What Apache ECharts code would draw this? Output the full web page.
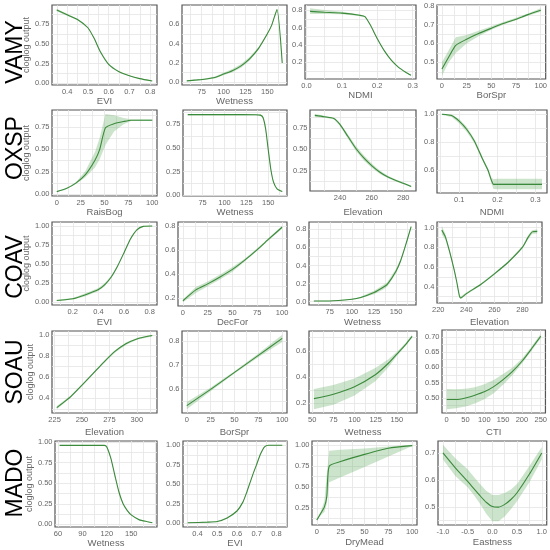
<!DOCTYPE html>
<html><head><meta charset="utf-8">
<script src="https://cdn.jsdelivr.net/npm/echarts@6/dist/echarts.min.js"></script>
<style>html,body{margin:0;padding:0;background:#fff}#c{width:550px;height:550px}</style>
</head><body><div id="c"></div>
<script>
// ---------------- DATA ----------------
const species = ['VAMY','OXSP','COAV','SOAU','MADO'];
const yTitle = 'cloglog output';

// VAMY
const vamy_evi_x   = [0.35,0.40,0.45,0.50,0.53,0.56,0.60,0.65,0.70,0.75,0.81];
const vamy_evi_fit = [0.93,0.87,0.81,0.705,0.57,0.40,0.24,0.145,0.094,0.058,0.027];
const vamy_evi_lo  = [0.915,0.858,0.80,0.697,0.562,0.392,0.233,0.139,0.089,0.054,0.023];
const vamy_evi_hi  = [0.948,0.882,0.82,0.713,0.578,0.408,0.247,0.151,0.099,0.062,0.031];
const vamy_evi_xt  = [0.4,0.5,0.6,0.7,0.8];
const vamy_evi_yt  = [0,0.25,0.5,0.75];

const vamy_wet_x   = [58,70,80,90,100,110,120,130,140,150,155,161,167];
const vamy_wet_fit = [0.015,0.025,0.035,0.05,0.085,0.12,0.17,0.245,0.35,0.50,0.59,0.75,0.2];
const vamy_wet_lo  = [0.01,0.018,0.027,0.04,0.072,0.103,0.15,0.225,0.335,0.49,0.582,0.74,0.19];
const vamy_wet_hi  = [0.02,0.032,0.043,0.06,0.098,0.137,0.19,0.265,0.365,0.51,0.598,0.76,0.21];
const vamy_wet_xt  = [75,100,125,150];
const vamy_wet_yt  = [0,0.2,0.4,0.6];

const vamy_ndmi_x   = [0.01,0.05,0.10,0.15,0.165,0.18,0.20,0.22,0.24,0.26,0.28,0.295];
const vamy_ndmi_fit = [0.785,0.775,0.765,0.74,0.725,0.63,0.47,0.33,0.22,0.14,0.085,0.05];
const vamy_ndmi_lo  = [0.755,0.755,0.752,0.732,0.717,0.622,0.462,0.322,0.213,0.134,0.08,0.045];
const vamy_ndmi_hi  = [0.82,0.80,0.78,0.75,0.733,0.638,0.478,0.338,0.227,0.146,0.09,0.055];
const vamy_ndmi_xt  = [0,0.1,0.2,0.3];
const vamy_ndmi_yt  = [0,0.2,0.4,0.6,0.8];

const vamy_bor_x   = [0,7,14,25,37,50,62,75,87,100];
const vamy_bor_fit = [0.465,0.53,0.59,0.622,0.652,0.68,0.705,0.728,0.752,0.775];
const vamy_bor_lo  = [0.43,0.50,0.55,0.60,0.638,0.672,0.698,0.722,0.746,0.767];
const vamy_bor_hi  = [0.50,0.565,0.632,0.645,0.667,0.69,0.713,0.735,0.758,0.785];
const vamy_bor_xt  = [0,25,50,75,100];
const vamy_bor_yt  = [0.5,0.6,0.7,0.8];

// OXSP
const oxsp_rais_x   = [0,10,20,30,40,45,51,60,70,78,90,100];
const oxsp_rais_fit = [0.03,0.065,0.125,0.22,0.38,0.50,0.74,0.785,0.81,0.825,0.825,0.825];
const oxsp_rais_lo  = [0.025,0.06,0.115,0.19,0.30,0.39,0.55,0.70,0.78,0.815,0.815,0.815];
const oxsp_rais_hi  = [0.035,0.07,0.135,0.26,0.47,0.63,0.895,0.88,0.85,0.835,0.835,0.835];
const oxsp_rais_xt  = [0,25,50,75,100];
const oxsp_rais_yt  = [0,0.25,0.5,0.75];

const oxsp_wet_x   = [58,80,100,120,135,141,144,147,150,153,156,160,166];
const oxsp_wet_fit = [0.85,0.85,0.85,0.85,0.849,0.845,0.82,0.70,0.48,0.27,0.14,0.07,0.04];
const oxsp_wet_lo  = [0.842,0.842,0.842,0.842,0.841,0.836,0.81,0.69,0.47,0.26,0.132,0.064,0.035];
const oxsp_wet_hi  = [0.858,0.858,0.858,0.858,0.857,0.854,0.83,0.71,0.49,0.28,0.148,0.076,0.045];
const oxsp_wet_xt  = [75,100,125,150];
const oxsp_wet_yt  = [0,0.25,0.5,0.75];

const oxsp_elev_x   = [224,230,236,240,245,250,255,260,265,270,275,280,285];
const oxsp_elev_fit = [0.898,0.882,0.862,0.79,0.65,0.51,0.40,0.31,0.235,0.178,0.138,0.102,0.065];
const oxsp_elev_lo  = [0.878,0.870,0.852,0.775,0.625,0.48,0.37,0.285,0.215,0.163,0.126,0.092,0.055];
const oxsp_elev_hi  = [0.918,0.894,0.872,0.805,0.675,0.54,0.43,0.335,0.255,0.193,0.150,0.112,0.075];
const oxsp_elev_xt  = [220,240,260,280];
const oxsp_elev_yt  = [0.25,0.5,0.75];

const oxsp_ndmi_x   = [0.055,0.08,0.10,0.12,0.14,0.16,0.175,0.185,0.19,0.20,0.25,0.317];
const oxsp_ndmi_fit = [1.0,0.99,0.95,0.89,0.806,0.685,0.60,0.52,0.495,0.495,0.495,0.495];
const oxsp_ndmi_lo  = [0.995,0.98,0.935,0.872,0.79,0.672,0.585,0.50,0.462,0.46,0.46,0.46];
const oxsp_ndmi_hi  = [1.003,0.998,0.965,0.908,0.822,0.698,0.615,0.54,0.532,0.535,0.535,0.535];
const oxsp_ndmi_xt  = [0.1,0.2,0.3];
const oxsp_ndmi_yt  = [0.6,0.8,1.0];

// COAV
const coav_evi_x   = [0.075,0.2,0.3,0.4,0.45,0.5,0.55,0.6,0.65,0.7,0.75,0.82];
const coav_evi_fit = [0.022,0.044,0.098,0.165,0.23,0.33,0.475,0.65,0.83,0.95,0.995,1.0];
const coav_evi_lo  = [0.012,0.034,0.078,0.145,0.21,0.315,0.465,0.64,0.82,0.94,0.99,0.997];
const coav_evi_hi  = [0.032,0.054,0.118,0.185,0.25,0.345,0.485,0.66,0.84,0.96,1.0,1.003];
const coav_evi_xt  = [0.2,0.4,0.6,0.8];
const coav_evi_yt  = [0,0.25,0.5,0.75,1.0];

const coav_dec_x   = [0,13,25,37,50,62,75,87,100];
const coav_dec_fit = [0.18,0.27,0.32,0.375,0.44,0.515,0.605,0.695,0.79];
const coav_dec_lo  = [0.168,0.245,0.30,0.355,0.42,0.503,0.595,0.685,0.778];
const coav_dec_hi  = [0.192,0.295,0.34,0.395,0.46,0.527,0.615,0.705,0.802];
const coav_dec_xt  = [0,25,50,75,100];
const coav_dec_yt  = [0.2,0.4,0.6,0.8];

const coav_wet_x   = [57,75,100,110,125,135,140,150,155,160,167];
const coav_wet_fit = [0.007,0.007,0.026,0.045,0.10,0.156,0.19,0.34,0.45,0.60,0.83];
const coav_wet_lo  = [0.004,0.004,0.021,0.037,0.08,0.131,0.165,0.315,0.43,0.585,0.82];
const coav_wet_hi  = [0.010,0.010,0.031,0.053,0.12,0.181,0.215,0.365,0.47,0.615,0.84];
const coav_wet_xt  = [75,100,125,150];
const coav_wet_yt  = [0,0.2,0.4,0.6,0.8];

const coav_elev_x   = [222.5,225,228,231,233,235,236,240,250,260,270,280,284,287,290.5];
const coav_elev_fit = [0.973,0.907,0.76,0.59,0.46,0.31,0.287,0.33,0.42,0.53,0.65,0.80,0.90,0.955,0.96];
const coav_elev_lo  = [0.928,0.877,0.74,0.575,0.445,0.295,0.272,0.318,0.41,0.52,0.64,0.788,0.88,0.935,0.94];
const coav_elev_hi  = [1.018,0.937,0.78,0.605,0.475,0.325,0.302,0.342,0.43,0.54,0.66,0.812,0.92,0.975,0.98];
const coav_elev_xt  = [220,240,260,280];
const coav_elev_yt  = [0.4,0.6,0.8,1.0];

// SOAU
const soau_elev_x   = [227,240,250,260,270,280,290,300,314];
const soau_elev_fit = [0.3125,0.42,0.525,0.634,0.744,0.844,0.916,0.9625,0.994];
const soau_elev_lo  = [0.2975,0.41,0.517,0.626,0.735,0.832,0.904,0.954,0.986];
const soau_elev_hi  = [0.3275,0.43,0.533,0.642,0.753,0.856,0.928,0.971,1.002];
const soau_elev_xt  = [225,250,275,300];
const soau_elev_yt  = [0.4,0.6,0.8,1.0];

const soau_bor_x   = [0,25,50,75,100];
const soau_bor_fit = [0.533,0.60,0.67,0.74,0.81];
const soau_bor_lo  = [0.518,0.592,0.665,0.732,0.795];
const soau_bor_hi  = [0.548,0.608,0.675,0.748,0.825];
const soau_bor_xt  = [0,25,50,75,100];
const soau_bor_yt  = [0.5,0.6,0.7,0.8];

const soau_wet_x   = [52,75,100,125,140,150,160,168];
const soau_wet_fit = [0.236,0.27,0.327,0.42,0.505,0.575,0.645,0.71];
const soau_wet_lo  = [0.155,0.19,0.26,0.37,0.475,0.56,0.635,0.70];
const soau_wet_hi  = [0.31,0.34,0.39,0.47,0.535,0.59,0.658,0.722];
const soau_wet_xt  = [50,75,100,125,150];
const soau_wet_yt  = [0.2,0.4,0.6];

const soau_cti_x   = [0,25,50,75,100,125,150,175,200,225,250];
const soau_cti_fit = [0.495,0.495,0.50,0.509,0.52,0.537,0.56,0.587,0.62,0.66,0.702];
const soau_cti_lo  = [0.463,0.466,0.472,0.482,0.496,0.515,0.543,0.575,0.613,0.654,0.695];
const soau_cti_hi  = [0.529,0.528,0.53,0.535,0.545,0.559,0.578,0.60,0.628,0.667,0.71];
const soau_cti_xt  = [0,50,100,150,200,250];
const soau_cti_yt  = [0.45,0.5,0.55,0.6,0.65,0.7];

// MADO
const mado_wet_x   = [62,90,117,120,125,130,135,140,145,150,160,170,176];
const mado_wet_fit = [0.958,0.958,0.958,0.94,0.80,0.59,0.39,0.25,0.17,0.115,0.055,0.033,0.02];
const mado_wet_lo  = [0.952,0.952,0.952,0.933,0.793,0.583,0.383,0.244,0.165,0.11,0.051,0.029,0.016];
const mado_wet_hi  = [0.964,0.964,0.964,0.947,0.807,0.597,0.397,0.256,0.175,0.12,0.059,0.037,0.024];
const mado_wet_xt  = [60,90,120,150];
const mado_wet_yt  = [0,0.25,0.5,0.75,1.0];

const mado_evi_x   = [0.35,0.45,0.50,0.55,0.60,0.63,0.65,0.68,0.70,0.72,0.74,0.76,0.83];
const mado_evi_fit = [0.005,0.013,0.022,0.067,0.156,0.27,0.40,0.62,0.755,0.89,0.98,1.0,1.0];
const mado_evi_lo  = [0.001,0.009,0.017,0.061,0.149,0.262,0.392,0.612,0.747,0.883,0.975,0.996,0.996];
const mado_evi_hi  = [0.009,0.017,0.027,0.073,0.163,0.278,0.408,0.628,0.763,0.897,0.985,1.004,1.004];
const mado_evi_xt  = [0.4,0.5,0.6,0.7,0.8];
const mado_evi_yt  = [0,0.25,0.5,0.75,1.0];

const mado_dry_x   = [0,4,8,10.5,13,25,50,75,100];
const mado_dry_fit = [0.104,0.18,0.26,0.385,0.745,0.80,0.886,0.96,0.99];
const mado_dry_lo  = [0.09,0.16,0.20,0.30,0.555,0.614,0.737,0.86,0.985];
const mado_dry_hi  = [0.12,0.20,0.33,0.65,0.93,0.94,0.955,0.98,1.0];
const mado_dry_xt  = [0,25,50,75,100];
const mado_dry_yt  = [0.25,0.5,0.75,1.0];

const mado_east_x   = [-1,-0.75,-0.5,-0.375,-0.25,-0.125,0,0.125,0.25,0.375,0.5,0.75,1];
const mado_east_fit = [0.70,0.645,0.595,0.568,0.542,0.518,0.502,0.500,0.510,0.528,0.553,0.622,0.70];
const mado_east_lo  = [0.676,0.615,0.573,0.545,0.512,0.475,0.448,0.448,0.465,0.492,0.522,0.592,0.676];
const mado_east_hi  = [0.73,0.68,0.64,0.612,0.585,0.56,0.545,0.545,0.552,0.565,0.585,0.652,0.722];
const mado_east_xt  = [-1,-0.5,0,0.5,1];
const mado_east_yt  = [0.5,0.6,0.7];

const panels = [
  ['EVI', vamy_evi_x, vamy_evi_fit, vamy_evi_lo, vamy_evi_hi, vamy_evi_xt, vamy_evi_yt],
  ['Wetness', vamy_wet_x, vamy_wet_fit, vamy_wet_lo, vamy_wet_hi, vamy_wet_xt, vamy_wet_yt],
  ['NDMI', vamy_ndmi_x, vamy_ndmi_fit, vamy_ndmi_lo, vamy_ndmi_hi, vamy_ndmi_xt, vamy_ndmi_yt],
  ['BorSpr', vamy_bor_x, vamy_bor_fit, vamy_bor_lo, vamy_bor_hi, vamy_bor_xt, vamy_bor_yt],
  ['RaisBog', oxsp_rais_x, oxsp_rais_fit, oxsp_rais_lo, oxsp_rais_hi, oxsp_rais_xt, oxsp_rais_yt],
  ['Wetness', oxsp_wet_x, oxsp_wet_fit, oxsp_wet_lo, oxsp_wet_hi, oxsp_wet_xt, oxsp_wet_yt],
  ['Elevation', oxsp_elev_x, oxsp_elev_fit, oxsp_elev_lo, oxsp_elev_hi, oxsp_elev_xt, oxsp_elev_yt],
  ['NDMI', oxsp_ndmi_x, oxsp_ndmi_fit, oxsp_ndmi_lo, oxsp_ndmi_hi, oxsp_ndmi_xt, oxsp_ndmi_yt],
  ['EVI', coav_evi_x, coav_evi_fit, coav_evi_lo, coav_evi_hi, coav_evi_xt, coav_evi_yt],
  ['DecFor', coav_dec_x, coav_dec_fit, coav_dec_lo, coav_dec_hi, coav_dec_xt, coav_dec_yt],
  ['Wetness', coav_wet_x, coav_wet_fit, coav_wet_lo, coav_wet_hi, coav_wet_xt, coav_wet_yt],
  ['Elevation', coav_elev_x, coav_elev_fit, coav_elev_lo, coav_elev_hi, coav_elev_xt, coav_elev_yt],
  ['Elevation', soau_elev_x, soau_elev_fit, soau_elev_lo, soau_elev_hi, soau_elev_xt, soau_elev_yt],
  ['BorSpr', soau_bor_x, soau_bor_fit, soau_bor_lo, soau_bor_hi, soau_bor_xt, soau_bor_yt],
  ['Wetness', soau_wet_x, soau_wet_fit, soau_wet_lo, soau_wet_hi, soau_wet_xt, soau_wet_yt],
  ['CTI', soau_cti_x, soau_cti_fit, soau_cti_lo, soau_cti_hi, soau_cti_xt, soau_cti_yt],
  ['Wetness', mado_wet_x, mado_wet_fit, mado_wet_lo, mado_wet_hi, mado_wet_xt, mado_wet_yt],
  ['EVI', mado_evi_x, mado_evi_fit, mado_evi_lo, mado_evi_hi, mado_evi_xt, mado_evi_yt],
  ['DryMead', mado_dry_x, mado_dry_fit, mado_dry_lo, mado_dry_hi, mado_dry_xt, mado_dry_yt],
  ['Eastness', mado_east_x, mado_east_fit, mado_east_lo, mado_east_hi, mado_east_xt, mado_east_yt]
];

// ---------------- LAYOUT (pixels) ----------------
const BOX = [ // left, right, top, bottom of each panel frame
  [52,157,5,85],[182,287,5,85],[305,416,5,79],[437,547,5,79],
  [52,157,110,196],[183,287,110,196],[310,416,110,191],[437,547,110,193],
  [52,157,222,305],[178,287,222,306],[309,416,222,305],[437,542,222,303],
  [52,157,331,413],[182,287,331,413],[309,417,331,413],[442,547,330,413],
  [55,157,441,527],[183,287,441,527],[312,417,441,525],[438,547,441,525]
];
const TITLE_Y = [100,100,93,93, 212,212,212,212, 322,322,322,322, 432,432,432,432, 543,543,542,542];
const ROW_LABEL_Y = [52,148,267,372,483];

const FONT = 'Liberation Sans, Arial, sans-serif';
const TXT = '#666666';

function decimals(arr){
  return Math.max(...arr.map(t => { const s = String(t); const k = s.indexOf('.'); return k < 0 ? 0 : s.length - k - 1; }));
}
function gridValues(ticks, ext){
  const step = ticks[1] - ticks[0];
  const vals = [];
  for (let v = ticks[0] - step; v <= ticks[ticks.length-1] + step + 1e-9; v += step/2) {
    const r = Number(v.toFixed(10));
    if (r > ext[0] && r < ext[1]) vals.push(r);
  }
  return vals;
}
function makeAxis(ext, ticks, gi, name, nameGap, extra){
  const dec = decimals(ticks);
  return Object.assign({
    type: 'value', gridIndex: gi, min: ext[0], max: ext[1],
    axisLine: {show: false},
    axisTick: {show: false, customValues: gridValues(ticks, ext)},
    axisLabel: {customValues: ticks, formatter: v => v.toFixed(dec), color: TXT, fontSize: 7.5, margin: 2.5, fontFamily: FONT},
    splitLine: {show: true, lineStyle: {color: '#e4e4e4', width: 0.8}},
    minorSplitLine: {show: false},
    name: name, nameLocation: 'middle', nameGap: nameGap,
    nameTextStyle: {color: TXT, fontSize: 9.5, fontFamily: FONT}
  }, extra || {});
}

const grids = [], xAxes = [], yAxes = [], series = [];
panels.forEach((p, i) => {
  const [name, xs, fit, lo, hi, xt, yt] = p;
  const b = BOX[i];
  const col = i % 4;
  grids.push({left: b[0], top: b[2], width: b[1]-b[0], height: b[3]-b[2],
    show: true, borderColor: '#555555', borderWidth: 1.2, backgroundColor: 'rgba(0,0,0,0)'});
  const xmin = Math.min(...xs), xmax = Math.max(...xs), xspan = xmax - xmin;
  const ymin = Math.min(...lo, ...fit), ymax = Math.max(...hi, ...fit), yspan = ymax - ymin;
  const xe = [xmin - 0.05*xspan, xmax + 0.05*xspan];
  const ye = [ymin - 0.05*yspan, ymax + 0.05*yspan];
  xAxes.push(makeAxis(xe, xt, i, name, TITLE_Y[i] - b[3] - 5));
  yAxes.push(makeAxis(ye, yt, i, col === 0 ? yTitle : '', b[0] - 35, {nameTextStyle: {color: TXT, fontSize: 9, fontFamily: FONT}}));
  // confidence band: one polygon through the upper then lower bounds, placed with the axes' scales
  series.push({type: 'custom', xAxisIndex: i, yAxisIndex: i, silent: true, z: 1,
    data: xs.map((v, j) => [v, lo[j], hi[j]]),
    encode: {x: 0, y: [1, 2]},
    renderItem: (params, api) => {
      if (params.dataIndex !== 0) return null;
      const up = xs.map((v, j) => api.coord([v, hi[j]]));
      const dn = xs.map((v, j) => api.coord([v, lo[j]])).reverse();
      return {type: 'polygon', shape: {points: up.concat(dn)},
        style: {fill: 'rgba(95,170,95,0.32)', stroke: null}};
    }});
  series.push({type: 'line', xAxisIndex: i, yAxisIndex: i, silent: true,
    data: xs.map((v, j) => [v, fit[j]]), symbol: 'none', smooth: 0.2,
    lineStyle: {color: '#3b8a3b', width: 1.1}, z: 3});
});

const graphics = species.map((s, r) => ({
  type: 'text', x: 16, y: ROW_LABEL_Y[r], rotation: Math.PI/2,
  style: {text: s, fill: '#000', fontSize: 23, fontFamily: FONT, align: 'center', verticalAlign: 'middle'}
}));

const chart = echarts.init(document.getElementById('c'), null, {renderer: 'canvas'});
chart.setOption({
  animation: false,
  backgroundColor: '#ffffff',
  textStyle: {fontFamily: FONT},
  grid: grids, xAxis: xAxes, yAxis: yAxes, series: series,
  graphic: graphics
});
</script></body></html>
